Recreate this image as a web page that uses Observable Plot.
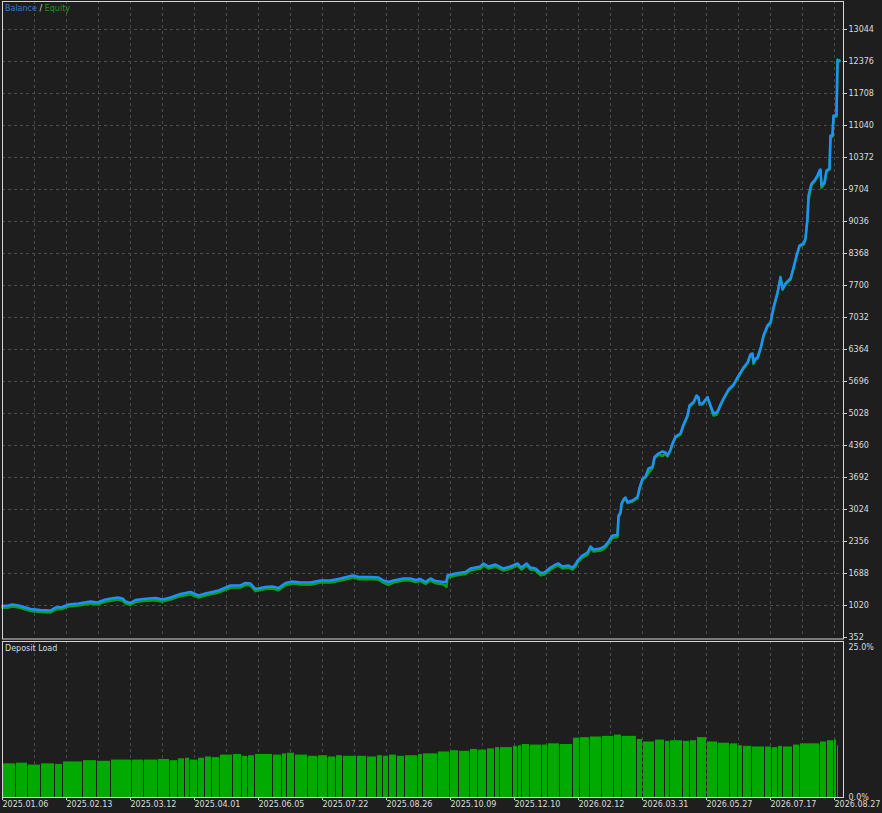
<!DOCTYPE html>
<html>
<head>
<meta charset="utf-8">
<script src="https://cdn.jsdelivr.net/npm/d3@7"></script>
<script src="https://cdn.jsdelivr.net/npm/@observablehq/plot@0.6"></script>
<style>
  html, body { margin: 0; padding: 0; background: #1e1e1e; }
  #wrap { position: relative; width: 882px; height: 813px; background: #1e1e1e; overflow: hidden; font-family: "DejaVu Sans", sans-serif; }
  #topPanel { position: absolute; left: 0; top: 0; }
  #botPanel { position: absolute; left: 0; top: 640px; }
  .lbl { position: absolute; font-size: 8px; line-height: 10px; white-space: nowrap; }
</style>
</head>
<body>
<div id="wrap">
  <div id="topPanel"></div>
  <div id="botPanel"></div>
  <div class="lbl" style="left:5px;top:4px;"><span style="color:#2b7fd6">Balance</span> <span style="color:#d8d8d8">/</span> <span style="color:#1b9a1b">Equity</span></div>
  <div class="lbl" style="left:5px;top:644px;color:#dcdcdc">Deposit Load</div>
</div>
<script>
// ---- data (x = deal number) ----
const deals = [0,6,10,16,23,28,38,48,53,60,66,76,88,95,103,115,120,123,128,133,141,153,160,168,178,188,196,203,216,228,238,243,248,253,263,270,276,283,290,298,
308,318,328,338,346,351,356,368,376,381,386,391,401,408,413,418,423,428,433,441,444,445,453,463,468,473,478,481,486,493,501,508,515,519,524,528,533,538,542,548,553,556,560,566,570,573,575,580,585,588,591,598,602,606,610,615,
616,618,619,621,623,625,630,635,637,640,643,646,650,652,656,660,663,665,668,670,673,678,681,685,687,691,694,696,697,700,705,708,711,714,716,718,721,726,731,735,738,741,745,748,750,751,753,755,758,761,765,768,771,775,778,780,783,788,791,794,797,801,803,805,806,809,812,815,817,818,819,822,824,827,828,830,831,834,835,837];

const balance = [1010,1020,1041,1020,978,947,926,916,978,989,1041,1062,1104,1083,1145,1187,1166,1104,1072,1135,1156,1177,1145,1187,1260,1302,1229,1271,1333,1438,1438,1490,1479,1364,1406,1417,1385,1490,1521,1500,
1500,1542,1542,1584,1625,1646,1615,1615,1605,1542,1511,1542,1584,1584,1552,1573,1511,1584,1531,1511,1521,1646,1688,1719,1792,1813,1834,1897,1834,1876,1792,1834,1897,1813,1897,1813,1792,1698,1709,1813,1876,1897,1834,1855,1813,1876,1959,2064,2126,2252,2189,2210,2252,2356,2481,2492,
2899,2961,3149,3233,3275,3181,3212,3285,3473,3671,3713,3880,3911,4120,4193,4235,4214,4151,4277,4402,4548,4611,4798,4986,5195,5268,5404,5362,5237,5237,5372,5195,5028,5049,5112,5216,5341,5529,5633,5780,5884,5988,6093,6260,6281,6093,6176,6197,6385,6656,6865,6928,7241,7554,7867,7637,7742,7846,8076,8326,8535,8577,8681,9120,9579,9829,9892,9996,10101,10122,9788,9850,10101,10142,10831,10831,11249,11249,12397,12397];

const equity = [975,980,1000,980,938,905,885,875,935,948,1000,1020,1060,1040,1100,1145,1120,1060,1030,1092,1113,1130,1100,1145,1215,1255,1185,1228,1290,1390,1395,1446,1435,1320,1362,1373,1340,1442,1480,1458,
1455,1498,1500,1540,1580,1605,1570,1572,1560,1495,1450,1500,1540,1542,1508,1530,1468,1540,1485,1460,1410,1600,1645,1675,1750,1770,1790,1852,1792,1830,1750,1790,1855,1770,1852,1770,1748,1652,1668,1770,1832,1854,1792,1810,1770,1830,1915,2020,2080,2208,2145,2168,2208,2310,2435,2450,
2860,2940,3120,3210,3250,3160,3190,3262,3440,3640,3690,3780,3890,4090,4170,4140,4190,4130,4255,4380,4525,4590,4775,4960,5170,5245,5380,5340,5210,5215,5350,5170,4985,5000,5090,5195,5318,5505,5610,5755,5860,5965,6070,6235,6258,6060,6150,6175,6360,6630,6840,6905,7215,7530,7880,7610,7720,7822,8050,8300,8510,8555,8655,9090,9480,9800,9870,9970,10080,10100,9740,9825,10078,10120,10790,10810,11220,11230,12420,12380];

const loadStart = [0,14,26,39,53,61,81,95,109,130,142,156,168,176,183,188,196,203,210,218,231,240,246,253,271,280,285,293,306,316,326,334,341,355,365,375,381,387,395,403,416,421,436,448,457,468,476,485,493,498,511,516,520,528,540,546,558,571,578,588,600,612,620,635,641,653,663,668,681,688,695,705,716,728,736,741,750,763,770,776,781,791,798,818,825,832,835];
const loadPct = [5.4,5.5,5.2,5.4,5.3,5.7,5.9,5.8,6.0,6.0,6.0,6.1,5.9,6.2,6.3,6.0,6.3,6.5,6.4,6.8,6.9,6.6,6.7,6.9,6.8,7.0,7.1,6.8,6.6,6.7,6.5,6.7,6.6,6.6,6.5,6.7,6.6,6.8,6.6,6.7,6.9,7.0,7.3,7.5,7.4,7.7,7.6,7.8,8.0,8.0,8.2,8.3,8.5,8.4,8.4,8.6,8.5,9.5,9.6,9.7,9.8,10.0,9.8,9.3,8.9,9.2,9.0,9.1,9.0,9.1,9.6,8.9,8.7,8.6,8.3,8.2,8.1,8.1,8.0,8.2,8.1,8.4,8.6,8.9,9.1,9.2,8.3];
const loadEnd = 837;

const balanceTicks = [352,1020,1688,2356,3024,3692,4360,5028,5696,6364,7032,7700,8368,9036,9704,10372,11040,11708,12376,13044];
const dateTicks = [0,64,128,192,256,320,384,448,512,576,640,704,768,832];
const dateLabels = ["2025.01.06","2025.02.13","2025.03.12","2025.04.01","2025.06.05","2025.07.22","2025.08.26","2025.10.09","2025.12.10","2026.02.12","2026.03.31","2026.05.27","2026.07.17","2026.08.27"];
const loadTicks = [0, 25];

// ---- derived tables ----
const curve = deals.map((d, i) => ({deal: d, balance: balance[i], equity: equity[i]}));
const bars = loadStart.map((s, i) => ({start: s, end: i + 1 < loadStart.length ? loadStart[i + 1] : loadEnd, load: loadPct[i]}));
const gridX = d3.range(32, 841, 32);
const dateMap = new Map(dateTicks.map((d, i) => [d, dateLabels[i]]));

const GRID = "#4b4b4b", FRAME = "#d4d4d4", TXT = "#dcdcdc";
const baseStyle = {background: "transparent", color: TXT, fontFamily: "DejaVu Sans, sans-serif", fontSize: "8px", overflow: "visible"};

const topChart = Plot.plot({
  width: 882, height: 640,
  marginLeft: 2, marginRight: 39, marginTop: 1, marginBottom: 3,
  style: baseStyle,
  x: {domain: [0, 841], axis: null, label: null},
  y: {domain: [352, 13628.5], axis: null, label: null},
  marks: [
    Plot.ruleY(balanceTicks.slice(1), {stroke: GRID, strokeDasharray: "3,3"}),
    Plot.ruleX(gridX, {stroke: GRID, strokeDasharray: "3,3"}),
    Plot.line(curve, {x: "deal", y: "equity", stroke: "#0fa00f", strokeWidth: 2.5}),
    Plot.line(curve, {x: "deal", y: "balance", stroke: "#1e90ff", strokeWidth: 2.5}),
    Plot.frame({stroke: FRAME, insetBottom: -1.5}),
    Plot.axisY(balanceTicks, {anchor: "right", label: null, tickSize: 3, tickPadding: 2, stroke: FRAME, fill: TXT, textAnchor: "start", tickFormat: d => String(d), fontSize: 8})
  ]
});
document.getElementById("topPanel").appendChild(topChart);

const botChart = Plot.plot({
  width: 882, height: 173,
  marginLeft: 2, marginRight: 39, marginTop: 1, marginBottom: 16,
  style: baseStyle,
  x: {domain: [0, 841], axis: null, label: null},
  y: {domain: [0, 25], axis: null, label: null},
  marks: [
    Plot.ruleX(gridX, {stroke: GRID, strokeDasharray: "3,3"}),
    Plot.rectY(bars, {x1: "start", x2: "end", y: "load", fill: "#00aa00", insetRight: 1}),
    Plot.frame({stroke: FRAME}),
    Plot.axisY([loadTicks[1]], {anchor: "right", label: null, tickSize: 0, tickPadding: 5, dy: 6, fill: TXT, textAnchor: "start", tickFormat: d => d.toFixed(1) + "%", fontSize: 8}),
    Plot.axisY([loadTicks[0]], {anchor: "right", label: null, tickSize: 0, tickPadding: 5, fill: TXT, textAnchor: "start", tickFormat: d => d.toFixed(1) + "%", fontSize: 8}),
    Plot.axisX(dateTicks, {anchor: "bottom", label: null, tickSize: 3, tickPadding: 1, stroke: FRAME, fill: TXT, textAnchor: "start", tickFormat: d => dateMap.get(d), fontSize: 8})
  ]
});
document.getElementById("botPanel").appendChild(botChart);
</script>
</body>
</html>
